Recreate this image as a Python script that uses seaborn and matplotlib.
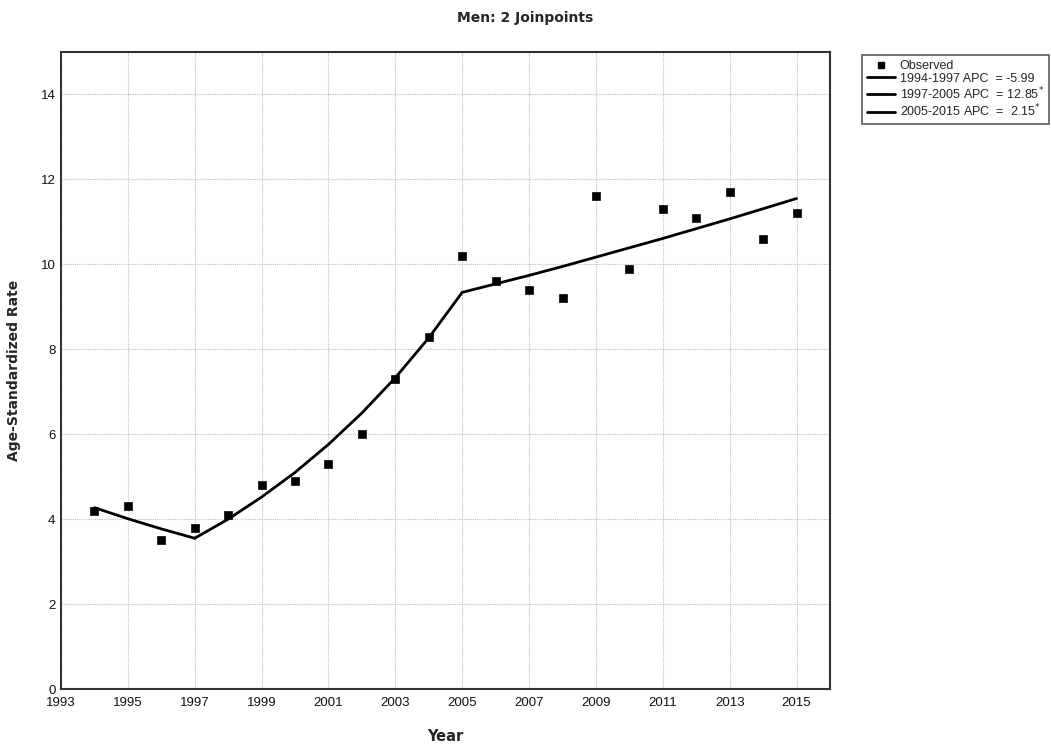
import matplotlib
matplotlib.use("Agg")
import matplotlib.pyplot as plt
import pandas as pd
import seaborn as sns
from matplotlib.lines import Line2D

# Observed age-standardized rates
years = [1994, 1995, 1996, 1997, 1998, 1999, 2000, 2001, 2002, 2003, 2004,
         2005, 2006, 2007, 2008, 2009, 2010, 2011, 2012, 2013, 2014, 2015]
observed = [4.2, 4.3, 3.5, 3.8, 4.1, 4.8, 4.9, 5.3, 6.0, 7.3, 8.3,
            10.2, 9.6, 9.4, 9.2, 11.6, 9.9, 11.3, 11.1, 11.7, 10.6, 11.2]
# Modelled (joinpoint) values
fitted = [4.27, 4.01, 3.77, 3.55, 4.00, 4.52, 5.10, 5.76, 6.50, 7.33, 8.27,
          9.34, 9.54, 9.74, 9.95, 10.17, 10.39, 10.61, 10.84, 11.07, 11.31, 11.55]

segments = [(1994, 1997), (1997, 2005), (2005, 2015)]
segment_labels = [
    "1994-1997 APC  = -5.99",
    "1997-2005 APC  = 12.85$^{*}$",
    "2005-2015 APC  =  2.15$^{*}$",
]

x_ticks = list(range(1993, 2016, 2))
y_ticks = list(range(0, 15, 2))

df = pd.DataFrame({"year": years, "observed": observed, "fitted": fitted})

sns.set_style("white")
plt.rcParams["font.family"] = ["Liberation Sans", "DejaVu Sans"]

fig = plt.figure(figsize=(10.51, 7.44), dpi=100)
ax = fig.add_axes([61 / 1051, 1 - 689 / 744, (830 - 61) / 1051, (689 - 52) / 744])

for (start, end) in segments:
    seg = df[(df.year >= start) & (df.year <= end)]
    sns.lineplot(data=seg, x="year", y="fitted", color="black", linewidth=2,
                 ax=ax, legend=False)

sns.scatterplot(data=df, x="year", y="observed", marker="s", color="black",
                s=36, edgecolor="black", ax=ax, legend=False, zorder=3)

ax.set_xlim(1993, 2016)
ax.set_ylim(0, 15)
ax.set_xticks(x_ticks)
ax.set_yticks(y_ticks)
ax.tick_params(axis="both", length=0, labelsize=9.5, colors="#111111")
ax.tick_params(axis="x", pad=6)
ax.tick_params(axis="y", pad=4)
ax.grid(True, color="#bdbdbd", linestyle=(0, (1, 1)), linewidth=0.8)
for side in ax.spines.values():
    side.set_color("#333333")
    side.set_linewidth(1.5)

ax.set_xlabel("Year", fontsize=10.5, fontweight="bold", family="DejaVu Sans",
              labelpad=14)
ax.set_ylabel("Age-Standardized Rate", fontsize=10, fontweight="bold",
              family="DejaVu Sans", labelpad=14)
fig.suptitle("Men: 2 Joinpoints", x=0.5, y=0.985, fontsize=10,
             fontweight="bold", family="DejaVu Sans")

handles = [Line2D([], [], marker="s", color="black", linestyle="none",
                  markersize=5)]
handles += [Line2D([], [], color="black", linewidth=2) for _ in segments]
leg = fig.legend(handles, ["Observed"] + segment_labels,
                 loc="upper left", bbox_to_anchor=(862 / 1051, 1 - 55 / 744),
                 fontsize=9, frameon=True, fancybox=False,
                 handlelength=2.2, handletextpad=0.4, labelspacing=0.05,
                 borderpad=0.4, borderaxespad=0)
leg.get_frame().set_edgecolor("#333333")
leg.get_frame().set_linewidth(1.2)

fig.savefig("out.png", dpi=100)
